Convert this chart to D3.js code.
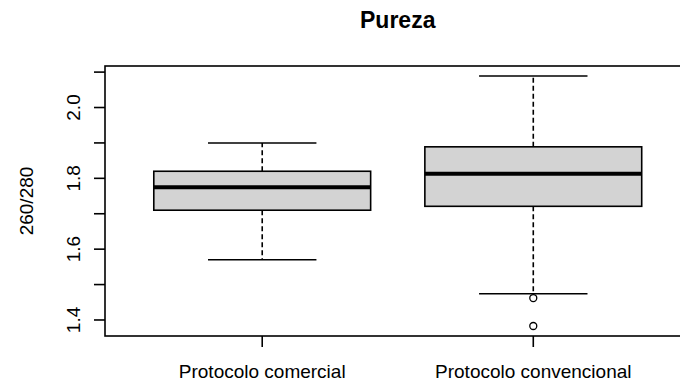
<!DOCTYPE html>
<html>
<head>
<meta charset="utf-8">
<script src="https://cdn.jsdelivr.net/npm/d3@7"></script>
<style>
  html, body { margin: 0; padding: 0; background: #fff; }
  svg { display: block; font-family: "Liberation Sans", Arial, sans-serif; }
</style>
</head>
<body>
<svg id="chart" width="680" height="383"></svg>
<script>
const categories = ["Protocolo comercial", "Protocolo convencional"];
const lowerWhisker = [1.57, 1.474];
const q1 = [1.71, 1.721];
const median = [1.775, 1.813];
const q3 = [1.82, 1.889];
const upperWhisker = [1.90, 2.089];
const outliers = [[], [1.462, 1.383]];
const yTicks = [1.4, 1.5, 1.6, 1.7, 1.8, 1.9, 2.0, 2.1];
const yTickLabels = [1.4, 1.6, 1.8, 2.0];
const title = "Pureza";
const yLabel = "260/280";

const svg = d3.select("#chart");
const mLeft = 105, mTop = 66, mBottom = 336, mRight = 690.5;

const allVals = lowerWhisker.concat(upperWhisker, outliers.flat());
const vmin = d3.min(allVals), vmax = d3.max(allVals);
const ext = (vmax - vmin) * 0.04;
const y = d3.scaleLinear().domain([vmin - ext, vmax + ext]).range([mBottom, mTop]);
const x = d3.scaleLinear().domain([0.42, 2.58]).range([mLeft, mRight]);

const lw = 1.6;
const boxW = 0.8, capW = 0.4;

// plot frame
svg.append("rect")
  .attr("x", mLeft).attr("y", mTop)
  .attr("width", mRight - mLeft).attr("height", mBottom - mTop)
  .attr("fill", "none").attr("stroke", "#000").attr("stroke-width", lw);

// y axis ticks
const ya = svg.append("g");
ya.selectAll("line").data(yTicks).join("line")
  .attr("x1", mLeft - 11).attr("x2", mLeft)
  .attr("y1", d => y(d)).attr("y2", d => y(d))
  .attr("stroke", "#000").attr("stroke-width", lw);
ya.selectAll("text").data(yTickLabels).join("text")
  .attr("transform", d => `translate(80,${y(d)}) rotate(-90)`)
  .attr("text-anchor", "middle")
  .attr("font-size", 19)
  .attr("fill", "#000")
  .text(d => d.toFixed(1));

// x axis ticks
const idx = categories.map((c, i) => i + 1);
const xa = svg.append("g");
xa.selectAll("line").data(idx).join("line")
  .attr("x1", d => x(d)).attr("x2", d => x(d))
  .attr("y1", mBottom).attr("y2", mBottom + 11)
  .attr("stroke", "#000").attr("stroke-width", lw);
xa.selectAll("text").data(categories).join("text")
  .attr("x", (d, i) => x(i + 1)).attr("y", 378)
  .attr("text-anchor", "middle")
  .attr("font-size", 19)
  .attr("fill", "#000")
  .text(d => d);

// boxes
categories.forEach((c, i) => {
  const cx = i + 1;
  const g = svg.append("g");
  g.append("line")
    .attr("x1", x(cx)).attr("x2", x(cx))
    .attr("y1", y(q3[i])).attr("y2", y(upperWhisker[i]))
    .attr("stroke", "#000").attr("stroke-width", lw).attr("stroke-dasharray", "5,3");
  g.append("line")
    .attr("x1", x(cx)).attr("x2", x(cx))
    .attr("y1", y(q1[i])).attr("y2", y(lowerWhisker[i]))
    .attr("stroke", "#000").attr("stroke-width", lw).attr("stroke-dasharray", "5,3");
  [upperWhisker[i], lowerWhisker[i]].forEach(v => {
    g.append("line")
      .attr("x1", x(cx - capW / 2)).attr("x2", x(cx + capW / 2))
      .attr("y1", y(v)).attr("y2", y(v))
      .attr("stroke", "#000").attr("stroke-width", lw);
  });
  g.append("rect")
    .attr("x", x(cx - boxW / 2)).attr("y", y(q3[i]))
    .attr("width", x(cx + boxW / 2) - x(cx - boxW / 2))
    .attr("height", y(q1[i]) - y(q3[i]))
    .attr("fill", "#d3d3d3").attr("stroke", "#000").attr("stroke-width", lw);
  g.append("line")
    .attr("x1", x(cx - boxW / 2)).attr("x2", x(cx + boxW / 2))
    .attr("y1", y(median[i])).attr("y2", y(median[i]))
    .attr("stroke", "#000").attr("stroke-width", 4);
  g.selectAll("circle").data(outliers[i]).join("circle")
    .attr("cx", x(cx)).attr("cy", d => y(d)).attr("r", 3.5)
    .attr("fill", "none").attr("stroke", "#000").attr("stroke-width", 1.3);
});

// title
svg.append("text")
  .attr("x", (mLeft + mRight) / 2).attr("y", 28)
  .attr("text-anchor", "middle")
  .attr("font-size", 23).attr("font-weight", "bold")
  .attr("fill", "#000")
  .text(title);

// y label
svg.append("text")
  .attr("transform", `translate(33,${(mTop + mBottom) / 2}) rotate(-90)`)
  .attr("text-anchor", "middle")
  .attr("font-size", 19)
  .attr("fill", "#000")
  .text(yLabel);
</script>
</body>
</html>
